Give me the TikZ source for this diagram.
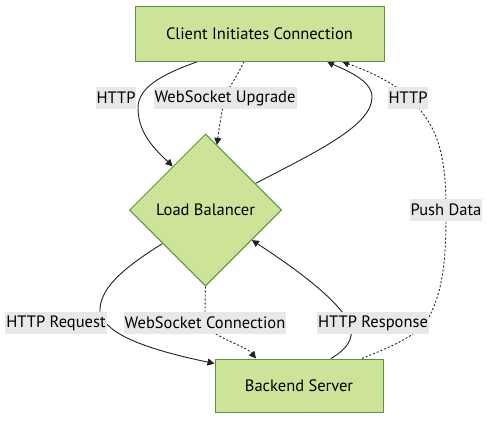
\documentclass[tikz,border=0pt]{standalone}
\usepackage{fontspec}
\setmainfont{PT Sans}
\usetikzlibrary{shapes.geometric,arrows.meta,backgrounds}
\definecolor{nodefill}{HTML}{CDE498}
\definecolor{nodeborder}{HTML}{5E9240}
\definecolor{lblfill}{HTML}{E8E8E8}
\definecolor{edgecol}{HTML}{222222}
\begin{document}
\begin{tikzpicture}[x=1pt,y=-1pt,
  font=\fontsize{16.5}{19}\selectfont,
  box/.style={draw=nodeborder,fill=nodefill,line width=1pt,inner sep=0pt,text=black},
  dia/.style={diamond,shape aspect=1,draw=nodeborder,fill=nodefill,line width=1pt,inner sep=0pt,minimum size=152pt,text=black},
  lbl/.style={fill=lblfill,inner xsep=1pt,inner ysep=0pt,minimum height=22pt,text=black},
  edge/.style={draw=edgecol,line width=0.9pt,-{Triangle[length=7pt,width=7pt]}},
  dotedge/.style={edge,dash pattern=on 2pt off 2pt}]
\useasboundingbox (0,0) rectangle (497,428);
\node[box,minimum width=249pt,minimum height=54pt] (client) at (259.5,34) {Client Initiates Connection};
\node[dia] (lb) at (205.5,210) {Load Balancer};
\node[box,minimum width=168pt,minimum height=53pt] (backend) at (299,385.5) {Backend Server};
\coordinate (c1) at (116,98);
\coordinate (c2) at (225,98);
\coordinate (c3) at (408,98);
\coordinate (c4) at (446,210);
\coordinate (c5) at (56,323);
\coordinate (c6) at (205,323);
\coordinate (c7) at (373,323);
\begin{scope}[on background layer]
\draw[edge] ([xshift=-61.5pt]client.south) .. controls (160,75) and (138,88) .. (138,108) .. controls (138,135) and (158,152) .. (lb.127);
\draw[dotedge] ([xshift=-15.5pt]client.south) .. controls (238,75) and (228,88) .. (c2) .. controls (222,110) and (219,128) .. (lb.80);
\draw[edge] (lb.28) .. controls (320,150) and (372,125) .. (372,97) .. controls (372,80) and (345,70) .. ([xshift=67.5pt]client.south);
\draw[dotedge] ([xshift=63pt]backend.north) .. controls (395,345) and (420,335) .. (430,315) .. controls (445,285) and (446,250) .. (c4) .. controls (446,160) and (440,125) .. (c3) .. controls (395,82) and (365,70) .. ([xshift=82.5pt]client.south);
\draw[edge] (lb.218) .. controls (120,270) and (99,290) .. (100,312) .. controls (105,335) and (150,350) .. ([yshift=-5pt]backend.north west);
\draw[dotedge] (lb.south) .. controls (205,300) and (205,312) .. (c6) .. controls (212,338) and (245,345) .. ([xshift=-43pt]backend.north);
\draw[edge] ([xshift=32pt]backend.north) .. controls (345,350) and (355,340) .. (350,325) .. controls (340,300) and (290,265) .. (lb.-33);
\end{scope}
\node[lbl] (l1) at (c1) {HTTP};
\node[lbl] (l2) at (c2) {WebSocket Upgrade};
\node[lbl] (l3) at (c3) {HTTP};
\node[lbl] (l4) at (c4) {Push Data};
\node[lbl] (l5) at (c5) {HTTP Request};
\node[lbl] (l6) at (c6) {WebSocket Connection};
\node[lbl] (l7) at (c7) {HTTP Response};
\end{tikzpicture}
\end{document}
